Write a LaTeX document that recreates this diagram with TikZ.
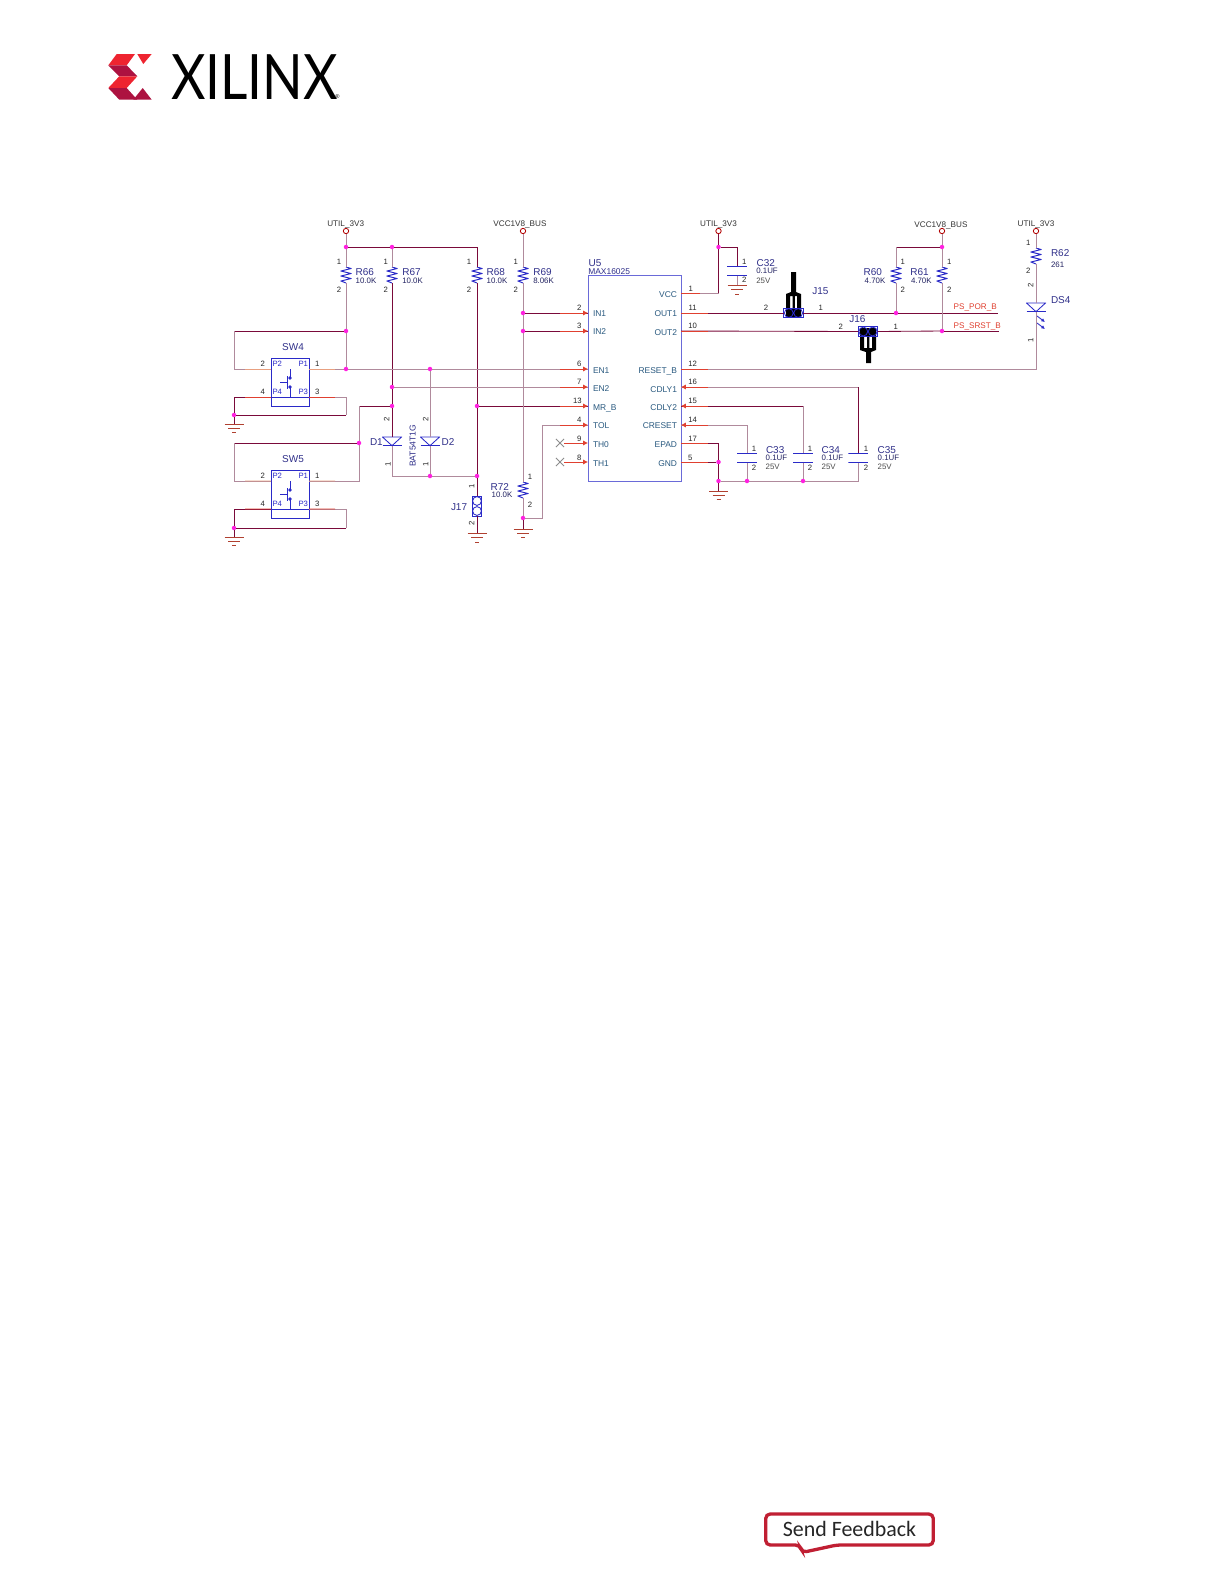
\documentclass[tikz,border=0pt]{standalone}
\usepackage{fontspec}
\setmainfont{Liberation Sans}
\newfontfamily\logofont{Lato}
\newfontfamily\feedfont{Carlito}
\usetikzlibrary{arrows.meta, shapes.misc}
\definecolor{mywiredk}{HTML}{7A0A3A}
\definecolor{mywirefd}{HTML}{B08A9C}
\definecolor{mypinred}{HTML}{E04030}
\definecolor{mypinsoft}{HTML}{E8A080}
\definecolor{mysymb}{HTML}{2A2AC8}
\definecolor{myic}{HTML}{6A6AD8}
\definecolor{myref}{HTML}{30308A}
\definecolor{mysig}{HTML}{2A5A80}
\definecolor{mydot}{HTML}{FF20E0}
\definecolor{mygnd}{HTML}{B04030}
\definecolor{mybright}{HTML}{EE2430}
\definecolor{mydark}{HTML}{AD1240}
\definecolor{myfeed}{HTML}{C01F33}

\begin{document}
\begin{tikzpicture}[
        x=0.25mm,
        y=-0.25mm,
        line width=0.6pt,
        wiredk/.style={draw=mywiredk},
        wirefd/.style={draw=mywirefd},
        pinout/.style={draw=mypinred},
        pinsoft/.style={draw=mypinsoft},
        pinin/.style={draw=mypinred, -{Latex[length=3.4pt, width=3.6pt]}},
        dot/.style={
            circle,
            fill=mydot,
            inner sep=0pt,
            outer sep=0pt,
            minimum size=3.2pt,
        },
        ring/.style={
            circle,
            draw=red!70!black,
            fill=white,
            inner sep=0pt,
            outer sep=0pt,
            minimum size=3.8pt,
        },
        res/.style={
            inner sep=0pt,
            outer sep=0pt,
            minimum width=2.8mm,
            minimum height=4mm,
            path picture={
                \draw[mysymb, line width=0.7pt] (0,-8) -- (5,-6.5) -- (-5,-4) -- (5,-1.5)
                    -- (-5,1) -- (5,3.5) -- (-5,6) -- (0,8);
            },
        },
        capa/.style={
            inner sep=0pt,
            outer sep=0pt,
            minimum width=5mm,
            minimum height=2.5mm,
            path picture={
                \draw[mysymb, line width=0.7pt] (-10,-4.5) -- (10,-4.5) (-10,4.5) -- (10,4.5);
            },
        },
        diode/.style={
            inner sep=0pt,
            outer sep=0pt,
            minimum width=5mm,
            minimum height=2.4mm,
            path picture={
                \draw[mysymb] (-9.5,-4.5) -- (9.5,-4.5) -- (0,4.2) -- cycle;
                \draw[mysymb, line width=0.75pt] (-9.5,4.2) -- (9.5,4.2);
            },
        },
        gnd/.style={
            inner sep=0pt,
            outer sep=0pt,
            minimum width=5mm,
            minimum height=2.5mm,
            path picture={
                \draw[mygnd] (-9.5,-4.5) -- (9.5,-4.5) (-6,-0.2) -- (6,-0.2) (-2,4.2) -- (2,4.2);
            },
        },
        jmph/.style={
            draw=mysymb,
            inner sep=0pt,
            outer sep=0pt,
            minimum width=4.8mm,
            minimum height=2.4mm,
            path picture={
                \draw[mysymb] (-4.7,0) circle[radius=1.1mm] (4.7,0) circle[radius=1.1mm];
            },
        },
        jmpv/.style={
            draw=mysymb,
            inner sep=0pt,
            outer sep=0pt,
            minimum width=2.4mm,
            minimum height=5mm,
            path picture={
                \draw[mysymb] (0,-5) circle[radius=1.1mm] (0,5) circle[radius=1.1mm];
            },
        },
        swbox/.style={
            draw=mysymb,
            inner sep=0pt,
            outer sep=0pt,
            minimum width=9.5mm,
            minimum height=11.8mm,
        },
        xmark/.style={
            cross out,
            draw=black!45,
            inner sep=0pt,
            minimum size=1.8mm,
        },
        ic/.style={
            draw=myic,
            inner sep=0pt,
            outer sep=0pt,
            minimum width=23.25mm,
            minimum height=51.5mm,
        },
        txt/.style={inner sep=0pt, outer sep=0pt, text depth=0pt},
        reflbl/.style={txt, anchor=west, text=myref, text height=5pt, font=\fontsize{7.1pt}{8pt}\selectfont},
        vallbl/.style={txt, anchor=west, text=myref!70!black, text height=4pt, font=\fontsize{5.6pt}{6pt}\selectfont},
        pinlbl/.style={txt, text=black!85, text height=3.9pt, font=\fontsize{5.5pt}{6pt}\selectfont},
        siglbl/.style={txt, text=mysig, text height=4.3pt, font=\fontsize{6pt}{7pt}\selectfont},
        netlbl/.style={txt, text=black!80, text height=4.1pt, font=\fontsize{5.8pt}{7pt}\selectfont},
    ]

    \useasboundingbox[fill=white] (0,0) rectangle (1224,1584);

    \fill[mybright] (116.7,54) -- (135,54) -- (126.7,65.3) -- (108.3,65.3) -- cycle;
    \fill[mybright] (137.3,54) -- (151.7,54) -- (143.3,64) -- cycle;
    \fill[mydark] (108.3,65.3) -- (126.7,65.3) -- (137.3,76.3) -- (119.3,76.3) -- cycle;
    \fill[mybright] (108.3,88) -- (119.3,76.3) -- (137.3,76.3) -- (126.7,88) -- cycle;
    \fill[mydark] (108.3,88) -- (126.7,88) -- (137.3,99.7) -- (119.3,99.7) -- cycle;
    \fill[mydark] (142.7,88) -- (151.7,99.7) -- (133.3,99.7) -- cycle;
    \node[txt, anchor=west, text height=32pt, font=\logofont\fontsize{44.5pt}{46pt}\selectfont] (logo) at (171,76.5) {\scalebox{0.85}[1]{XILINX}};
    \node[txt, font=\fontsize{4pt}{5pt}\selectfont] (regmark) at (337.5,97) {®};

    \draw[myfeed, line width=2.35pt, rounded corners=3.2pt, fill=white]
        (765.7,1514) -- (933.3,1514) -- (933.3,1545) -- (836.7,1545) -- (802,1552.5) -- (800,1545) -- (765.7,1545) -- cycle;
    \node[txt, text=black!85, font=\feedfont\fontsize{15.6pt}{17pt}\selectfont] (feedback) at (849.5,1529) {Send Feedback};

    \node[ring] (vcc1) at (346,231) {};
    \node[ring] (vcc2) at (523,231) {};
    \node[ring] (vcc3) at (718.5,231) {};
    \node[ring] (vcc4) at (942,231) {};
    \node[ring] (vcc5) at (1036,231) {};
    \node[netlbl] (vcc1t) at (345.7,224) {UTIL\_3V3};
    \node[netlbl] (vcc2t) at (520,224) {VCC1V8\_BUS};
    \node[netlbl] (vcc3t) at (718.5,224) {UTIL\_3V3};
    \node[netlbl] (vcc4t) at (941,225) {VCC1V8\_BUS};
    \node[netlbl] (vcc5t) at (1036,224) {UTIL\_3V3};

    \node[res] (r66) at (346,275) {};
    \node[res] (r67) at (392,275) {};
    \node[res] (r68) at (477,275) {};
    \node[res] (r69) at (523,275) {};
    \node[res] (r60) at (896,275) {};
    \node[res] (r61) at (942,275) {};
    \node[res] (r62) at (1036,256) {};
    \node[res] (r72) at (523,490) {};
    \node[reflbl] (r66t) at (355.7,271.7) {R66};
    \node[reflbl] (r67t) at (402.3,271.7) {R67};
    \node[reflbl] (r68t) at (486.7,271.7) {R68};
    \node[reflbl] (r69t) at (533.3,271.7) {R69};
    \node[reflbl] (r60t) at (863.7,271.7) {R60};
    \node[reflbl] (r61t) at (910.3,271.7) {R61};
    \node[reflbl] (r62t) at (1051,253) {R62};
    \node[reflbl] (r72t) at (490.7,486.5) {R72};
    \node[vallbl] (r66v) at (355.7,280.3) {10.0K};
    \node[vallbl] (r67v) at (402.3,280.3) {10.0K};
    \node[vallbl] (r68v) at (486.7,280.3) {10.0K};
    \node[vallbl] (r69v) at (533.3,280.3) {8.06K};
    \node[vallbl] (r60v) at (864.7,280.3) {4.70K};
    \node[vallbl] (r61v) at (911,280.3) {4.70K};
    \node[vallbl] (r62v) at (1051,265) {261};
    \node[vallbl] (r72v) at (491.7,495) {10.0K};
    \node[pinlbl] (r66a) at (339,262) {1};
    \node[pinlbl] (r66b) at (339,290) {2};
    \node[pinlbl] (r67a) at (385.7,262) {1};
    \node[pinlbl] (r67b) at (385.7,290) {2};
    \node[pinlbl] (r68a) at (469,262) {1};
    \node[pinlbl] (r68b) at (469,290) {2};
    \node[pinlbl] (r69a) at (515.7,262) {1};
    \node[pinlbl] (r69b) at (515.7,290) {2};
    \node[pinlbl] (r60a) at (902.7,262) {1};
    \node[pinlbl] (r60b) at (902.7,290) {2};
    \node[pinlbl] (r61a) at (949.3,262) {1};
    \node[pinlbl] (r61b) at (949.3,290) {2};
    \node[pinlbl] (r62a) at (1028.3,242.7) {1};
    \node[pinlbl] (r62b) at (1028.3,271) {2};
    \node[pinlbl] (r72a) at (530,477) {1};
    \node[pinlbl] (r72b) at (530,505) {2};

    \node[dot] (jn1) at (346,247) {};
    \node[dot] (jn2) at (392,247) {};
    \node[dot] (jn3) at (346,331) {};
    \node[dot] (jn4) at (346,369) {};
    \node[dot] (jn5) at (430,369) {};
    \node[dot] (jn6) at (392,387) {};
    \node[dot] (jn7) at (392,406) {};
    \node[dot] (jn8) at (477,406) {};
    \node[dot] (jn9) at (359,443) {};
    \node[dot] (jn10) at (430,476) {};
    \node[dot] (jn11) at (477,476) {};
    \node[dot] (jn12) at (234,415) {};
    \node[dot] (jn13) at (234,528) {};
    \node[dot] (jn14) at (523,313) {};
    \node[dot] (jn15) at (523,331) {};
    \node[dot] (jn16) at (523,518) {};
    \node[dot] (jn17) at (718.5,247) {};
    \node[dot] (jn18) at (718.5,462) {};
    \node[dot] (jn19) at (718.5,481) {};
    \node[dot] (jn20) at (747,481) {};
    \node[dot] (jn21) at (803,481) {};
    \node[dot] (jn22) at (896,313) {};
    \node[dot] (jn23) at (942,331) {};
    \node[dot] (jn24) at (942,247) {};

    \node[swbox] (sw4) at (290,382.5) {};
    \coordinate (sw4p2) at (271,369);
    \coordinate (sw4p1) at (309,369);
    \coordinate (sw4p4) at (271,397);
    \coordinate (sw4p3) at (309,397);
    \draw[mysymb] (271,397) -- (309,397);
    \draw[mysymb] (290,369) -- (290,378) (290,387) -- (290,397) (280,382) -- (287,382) (287,376) -- (287,389);
    \fill[mysymb] (290,378) circle[radius=0.45mm] (290,387) circle[radius=0.45mm];
    \node[reflbl, anchor=center] (sw4t) at (293,346.7) {SW4};
    \node[pinlbl, text=mysymb] (sw4q2) at (277.3,364) {P2};
    \node[pinlbl, text=mysymb] (sw4q1) at (303.3,364) {P1};
    \node[pinlbl, text=mysymb] (sw4q4) at (277.3,392) {P4};
    \node[pinlbl, text=mysymb] (sw4q3) at (303.3,392) {P3};
    \node[pinlbl] (sw4n2) at (262.7,364) {2};
    \node[pinlbl] (sw4n1) at (317.3,364) {1};
    \node[pinlbl] (sw4n4) at (262.7,392) {4};
    \node[pinlbl] (sw4n3) at (317.3,392) {3};

    \begin{scope}[yshift=-28mm]
        \node[swbox] (sw5) at (290,382.5) {};
        \coordinate (sw5p2) at (271,369);
        \coordinate (sw5p1) at (309,369);
        \coordinate (sw5p4) at (271,397);
        \coordinate (sw5p3) at (309,397);
        \draw[mysymb] (271,397) -- (309,397);
        \draw[mysymb] (290,369) -- (290,378) (290,387) -- (290,397) (280,382) -- (287,382) (287,376) -- (287,389);
        \fill[mysymb] (290,378) circle[radius=0.45mm] (290,387) circle[radius=0.45mm];
        \node[reflbl, anchor=center] (sw5t) at (293,346.7) {SW5};
        \node[pinlbl, text=mysymb] (sw5q2) at (277.3,364) {P2};
        \node[pinlbl, text=mysymb] (sw5q1) at (303.3,364) {P1};
        \node[pinlbl, text=mysymb] (sw5q4) at (277.3,392) {P4};
        \node[pinlbl, text=mysymb] (sw5q3) at (303.3,392) {P3};
        \node[pinlbl] (sw5n2) at (262.7,364) {2};
        \node[pinlbl] (sw5n1) at (317.3,364) {1};
        \node[pinlbl] (sw5n4) at (262.7,392) {4};
        \node[pinlbl] (sw5n3) at (317.3,392) {3};
    \end{scope}

    \node[gnd] (gnd1) at (234,428.5) {};
    \node[gnd] (gnd2) at (234,541.5) {};
    \node[gnd] (gnd3) at (477,538) {};
    \node[gnd] (gnd4) at (523,533.5) {};
    \node[gnd] (gnd5) at (737,290) {};
    \node[gnd] (gnd6) at (718.5,495.5) {};

    \node[diode] (d1) at (392,441.5) {};
    \node[diode] (d2) at (430,441.5) {};
    \node[diode] (ds4) at (1036,307.5) {};
    \draw[mysymb, -{Latex[length=2.6pt, width=2.6pt]}] (1037,316) -- (1045,322);
    \draw[mysymb, -{Latex[length=2.6pt, width=2.6pt]}] (1037,323) -- (1045,329);
    \node[reflbl] (d1t) at (370,441.7) {D1};
    \node[reflbl] (d2t) at (441.7,441.7) {D2};
    \node[reflbl] (ds4t) at (1051,300) {DS4};
    \node[vallbl, anchor=center, rotate=90, text=myref, font=\fontsize{6.1pt}{7pt}\selectfont] (d2v) at (412.7,445.7) {BAT54T1G};
    \node[pinlbl, rotate=90] (d1b) at (386.7,419) {2};
    \node[pinlbl, rotate=90] (d1a) at (388,464) {1};
    \node[pinlbl, rotate=90] (d2b) at (425.7,419) {2};
    \node[pinlbl, rotate=90] (d2a) at (425.7,464) {1};
    \node[pinlbl, rotate=90] (ds4b) at (1030.7,285) {2};
    \node[pinlbl, rotate=90] (ds4a) at (1030.7,340) {1};

    \node[jmpv] (j17) at (477,506) {};
    \node[reflbl] (j17t) at (451,507) {J17};
    \node[pinlbl, rotate=90] (j17a) at (471.7,486) {1};
    \node[pinlbl, rotate=90] (j17b) at (471.7,523) {2};

    \fill[black] (791,272) -- (796,272) -- (796,292) -- (801,294) -- (801,316) -- (797,316) -- (797,296)
        -- (794.8,296) -- (794.8,309) -- (792.6,309) -- (792.6,296) -- (790,296) -- (790,316) -- (786,316)
        -- (786,294) -- (791,292) -- cycle;
    \fill[black] (786,309) rectangle (801,317);
    \node[jmph] (j15) at (793.5,313) {};
    \node[reflbl] (j15t) at (812.3,290.7) {J15};
    \node[pinlbl] (j15a) at (820.7,307.7) {1};
    \node[pinlbl] (j15b) at (766,307.3) {2};

    \fill[black] (866,363) -- (871,363) -- (871,352) -- (876,350) -- (876,328) -- (872,328) -- (872,348)
        -- (869.4,348) -- (869.4,336) -- (867.2,336) -- (867.2,348) -- (864,348) -- (864,328) -- (860,328)
        -- (860,350) -- (866,352) -- cycle;
    \fill[black] (860,328) rectangle (876,336);
    \node[jmph] (j16) at (868,331.5) {};
    \node[reflbl] (j16t) at (849.3,319) {J16};
    \node[pinlbl] (j16a) at (895.7,326.7) {1};
    \node[pinlbl] (j16b) at (840.7,326.7) {2};

    \node[capa] (c32) at (737,271) {};
    \node[capa] (c33) at (747,457.5) {};
    \node[capa] (c34) at (803,457.5) {};
    \node[capa] (c35) at (858.3,457.5) {};
    \node[reflbl] (c32t) at (756.7,262.7) {C32};
    \node[reflbl] (c33t) at (766,450) {C33};
    \node[reflbl] (c34t) at (821.7,450) {C34};
    \node[reflbl] (c35t) at (877.7,450) {C35};
    \node[vallbl] (c32v) at (756.3,271) {0.1UF};
    \node[vallbl] (c33v) at (765.7,457.7) {0.1UF};
    \node[vallbl] (c34v) at (821.7,457.7) {0.1UF};
    \node[vallbl] (c35v) at (877.7,457.7) {0.1UF};
    \node[vallbl, text=black!70] (c32u) at (756.3,280.3) {25V};
    \node[vallbl, text=black!70] (c33u) at (765.7,467) {25V};
    \node[vallbl, text=black!70] (c34u) at (821.7,467) {25V};
    \node[vallbl, text=black!70] (c35u) at (877.7,467) {25V};
    \node[pinlbl] (c32a) at (744.3,261.7) {1};
    \node[pinlbl] (c32b) at (744.3,280) {2};
    \node[pinlbl] (c33a) at (754,448.7) {1};
    \node[pinlbl] (c33b) at (754,467.3) {2};
    \node[pinlbl] (c34a) at (810,448.7) {1};
    \node[pinlbl] (c34b) at (810,467.3) {2};
    \node[pinlbl] (c35a) at (866,448.7) {1};
    \node[pinlbl] (c35b) at (866,467.3) {2};

    \node[ic] (u5) at (634.5,378) {};
    \node[reflbl] (u5t) at (588.7,262.7) {U5};
    \node[siglbl, anchor=west, text=myref] (u5v) at (588.3,271) {MAX16025};
    \coordinate (in1) at (588,313);
    \coordinate (in2) at (588,331);
    \coordinate (en1) at (588,369);
    \coordinate (en2) at (588,387);
    \coordinate (mrb) at (588,406);
    \coordinate (tol) at (588,425);
    \coordinate (th0) at (588,443);
    \coordinate (th1) at (588,462);
    \coordinate (vcc) at (681,293);
    \coordinate (out1) at (681,313);
    \coordinate (out2) at (681,331);
    \coordinate (rstb) at (681,369);
    \coordinate (cdly1) at (681,387);
    \coordinate (cdly2) at (681,406);
    \coordinate (crst) at (681,425);
    \coordinate (epad) at (681,443);
    \coordinate (gndp) at (681,462);
    \node[siglbl, anchor=west] (in1t) at (593,313.3) {IN1};
    \node[siglbl, anchor=west] (in2t) at (593,331.3) {IN2};
    \node[siglbl, anchor=west] (en1t) at (593,370) {EN1};
    \node[siglbl, anchor=west] (en2t) at (593,388.3) {EN2};
    \node[siglbl, anchor=west] (mrbt) at (593,407) {MR\_B};
    \node[siglbl, anchor=west] (tolt) at (593,425.7) {TOL};
    \node[siglbl, anchor=west] (th0t) at (593,444) {TH0};
    \node[siglbl, anchor=west] (th1t) at (593,463.3) {TH1};
    \node[siglbl, anchor=east] (vcct) at (677,294) {VCC};
    \node[siglbl, anchor=east] (out1t) at (677,313.3) {OUT1};
    \node[siglbl, anchor=east] (out2t) at (677,332) {OUT2};
    \node[siglbl, anchor=east] (rstbt) at (677,370) {RESET\_B};
    \node[siglbl, anchor=east] (cdly1t) at (677,389) {CDLY1};
    \node[siglbl, anchor=east] (cdly2t) at (677,407) {CDLY2};
    \node[siglbl, anchor=east] (crstt) at (677,425.7) {CRESET};
    \node[siglbl, anchor=east] (epadt) at (677,444) {EPAD};
    \node[siglbl, anchor=east] (gndpt) at (677,463) {GND};
    \node[pinlbl] (in1n) at (579.3,307.3) {2};
    \node[pinlbl] (in2n) at (579.3,326) {3};
    \node[pinlbl] (en1n) at (579.3,364) {6};
    \node[pinlbl] (en2n) at (579.3,382) {7};
    \node[pinlbl] (mrbn) at (577.3,400.7) {13};
    \node[pinlbl] (toln) at (579.3,420) {4};
    \node[pinlbl] (th0n) at (579.3,438.3) {9};
    \node[pinlbl] (th1n) at (579.3,457.3) {8};
    \node[pinlbl] (vccn) at (690.7,288.7) {1};
    \node[pinlbl] (out1n) at (692.7,307.3) {11};
    \node[pinlbl] (out2n) at (692.7,326) {10};
    \node[pinlbl] (rstbn) at (692.7,364) {12};
    \node[pinlbl] (cdly1n) at (692.7,382) {16};
    \node[pinlbl] (cdly2n) at (692.7,400.7) {15};
    \node[pinlbl] (crstn) at (692.7,420) {14};
    \node[pinlbl] (epadn) at (692.7,438.3) {17};
    \node[pinlbl] (gndpn) at (690.3,457.3) {5};

    \node[xmark] (th0x) at (560,443) {};
    \node[xmark] (th1x) at (560,462) {};

    \coordinate (cn1) at (234,331);
    \coordinate (cn2) at (346,415);
    \coordinate (cn3) at (234,443);
    \coordinate (cn4) at (346,528);
    \coordinate (cn5) at (542,425);
    \coordinate (cn6) at (858.3,387);
    \coordinate (cn7) at (803,406);
    \coordinate (cn8) at (359,406);
    \coordinate (cn9) at (718.5,293);
    \coordinate (cn10) at (896,247);
    \coordinate (por) at (998,313);
    \coordinate (srst) at (999,331);
    \node[netlbl, anchor=west, text=mypinred] (port) at (953.7,307) {PS\_POR\_B};
    \node[netlbl, anchor=west, text=mypinred] (srstt) at (953.7,325.7) {PS\_SRST\_B};

    \begin{scope}[wiredk]
        \draw (jn1) -- (jn2);
        \draw (jn2) -| (r68.north);
        \draw (r67.south) -- (jn6);
        \draw (jn6) -- (jn7);
        \draw (jn7) -- (d1.north);
        \draw (r68.south) -- (jn8);
        \draw (jn8) -- (jn11);
        \draw (jn3) -- (cn1);
        \draw (sw4p4) -| (jn12);
        \draw (cn2) -- (jn12);
        \draw (jn7) -- (cn8);
        \draw (jn9) -- (cn3);
        \draw (sw5p4) -| (jn13);
        \draw (cn4) -- (jn13);
        \draw (jn12) -- (gnd1.north);
        \draw (jn13) -- (gnd2.north);
        \draw (jn11) -- (j17.north);
        \draw (j17.south) -- (gnd3.north);
        \draw (jn16) -- (gnd4.north);
        \draw (jn14) -- (in1);
        \draw (jn15) -- (in2);
        \draw (jn8) -- (mrb);
        \draw (cn9) -- (jn17);
        \draw (jn17) -- (vcc3);
        \draw (jn17) -| (c32.north);
        \draw (out1) -- (j15.west);
        \draw (j15.east) -- (jn22);
        \draw (jn22) -- (por);
        \draw (out2) -- (j16.west);
        \draw (j16.east) -- (jn23);
        \draw (jn23) -- (srst);
        \draw (cn6) -- (c35.north);
        \draw (cdly2) -- (cn7);
        \draw (epad) -| (jn18);
        \draw (gndp) -- (jn18);
        \draw (jn18) -- (jn19);
        \draw (jn19) -- (gnd6.north);
        \draw (jn24) -- (cn10);
    \end{scope}

    \begin{scope}[wirefd]
        \draw (vcc1) -- (jn1);
        \draw (jn1) -- (r66.north);
        \draw (jn2) -- (r67.north);
        \draw (r66.south) -- (jn3);
        \draw (jn3) -- (jn4);
        \draw (cn1) |- (sw4p2);
        \draw (sw4p1) -- (jn4);
        \draw (jn4) -- (jn5);
        \draw (jn5) -- (en1);
        \draw (jn6) -- (en2);
        \draw (sw4p3) -| (cn2);
        \draw (cn8) -- (jn9);
        \draw (jn9) |- (sw5p1);
        \draw (cn3) |- (sw5p2);
        \draw (sw5p3) -| (cn4);
        \draw (d1.south) |- (jn10);
        \draw (jn5) -- (d2.north);
        \draw (d2.south) -- (jn10);
        \draw (jn10) -- (jn11);
        \draw (vcc2) -- (r69.north);
        \draw (r69.south) -- (jn14);
        \draw (jn14) -- (jn15);
        \draw (jn15) -- (r72.north);
        \draw (r72.south) -- (jn16);
        \draw (jn16) -| (cn5);
        \draw (cn5) -- (tol);
        \draw (vcc) -- (cn9);
        \draw (c32.south) -- (gnd5.north);
        \draw (rstb) -| (ds4.south);
        \draw (r62.south) -- (ds4.north);
        \draw (vcc5) -- (r62.north);
        \draw (vcc4) -- (jn24);
        \draw (jn24) -- (r61.north);
        \draw (r61.south) -- (jn23);
        \draw (cn10) -- (r60.north);
        \draw (r60.south) -- (jn22);
        \draw (cdly1) -- (cn6);
        \draw (cn7) -- (c34.north);
        \draw (crst) -| (c33.north);
        \draw (c33.south) -- (jn20);
        \draw (c34.south) -- (jn21);
        \draw (c35.south) |- (jn21);
        \draw (jn19) -- (jn20);
        \draw (jn20) -- (jn21);
    \end{scope}

    \draw[pinsoft] (245,369) -- (sw4p2);
    \draw[pinsoft] (sw4p1) -- (335,369);
    \draw[pinout] (245,397) -- (sw4p4);
    \draw[pinout] (sw4p3) -- (335,397);
    \draw[pinsoft] (245,481) -- (sw5p2);
    \draw[pinsoft] (sw5p1) -- (335,481);
    \draw[pinout] (245,509) -- (sw5p4);
    \draw[pinout] (sw5p3) -- (335,509);

    \draw[pinin] (th0x) -- (th0);
    \draw[pinin] (th1x) -- (th1);
    \draw[pinin] (560,313) -- (in1);
    \draw[pinin] (560,331) -- (in2);
    \draw[pinin] (560,369) -- (en1);
    \draw[pinin] (560,387) -- (en2);
    \draw[pinin] (560,406) -- (mrb);
    \draw[pinin] (560,425) -- (tol);
    \draw[pinin] (708,387) -- (cdly1);
    \draw[pinin] (708,406) -- (cdly2);
    \draw[pinin] (708,425) -- (crst);
    \draw[pinout] (681,293) -- (700,293);
    \draw[pinout] (681,313) -- (708,313);
    \draw[pinout] (681,331) -- (708,331);
    \draw[pinout] (681,369) -- (708,369);
    \draw[pinout] (681,443) -- (708,443);
    \draw[pinout] (681,462) -- (708,462);
\end{tikzpicture}
\end{document}
